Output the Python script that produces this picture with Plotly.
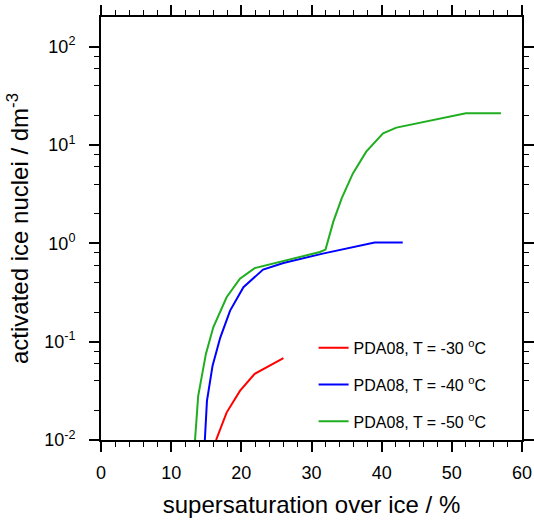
import plotly.graph_objects as go

# Data
x_30 = [16.4, 17.9, 19.8, 21.9, 26.0]
y_30 = [0.010, 0.019, 0.0316, 0.047, 0.068]

x_40 = [14.8, 15.1, 15.9, 17.0, 18.4, 20.3, 23.1, 26.0, 31.6, 39.0, 43.0]
y_40 = [0.010, 0.025, 0.057, 0.11, 0.207, 0.358, 0.54, 0.63, 0.785, 1.02, 1.02]

x_50 = [13.4, 13.85, 14.95, 16.0, 17.9, 19.8, 21.9, 26.0, 31.2, 32.0,
        33.1, 34.3, 35.9, 37.8, 40.2, 42.1, 47.8, 52.0, 57.0]
y_50 = [0.010, 0.028, 0.075, 0.14, 0.283, 0.436, 0.56, 0.66, 0.815, 0.863,
        1.65, 2.86, 5.14, 8.55, 13.1, 15.0, 18.3, 21.0, 21.0]

series_names = ["PDA08, T = -30 <sup>o</sup>C",
                "PDA08, T = -40 <sup>o</sup>C",
                "PDA08, T = -50 <sup>o</sup>C"]
series_colors = ["#ff0000", "#0000ff", "#1fae1f"]

x_tickvals = [0, 10, 20, 30, 40, 50, 60]
y_tickvals = [0.01, 0.1, 1, 10, 100]
y_ticktext = ["10<sup>-2</sup>", "10<sup>-1</sup>", "10<sup>0</sup>",
              "10<sup>1</sup>", "10<sup>2</sup>"]
y_minor = [m * d for d in [0.01, 0.1, 1, 10, 100] for m in (2, 4, 6, 8)]
y_minor = [v for v in y_minor if v < 200]

FONT = "Liberation Sans, Arial, Helvetica, sans-serif"

fig = go.Figure()
for i, (xs, ys) in enumerate([(x_30, y_30), (x_40, y_40), (x_50, y_50)]):
    fig.add_trace(go.Scatter(
        x=xs, y=ys, mode="lines", name=series_names[i],
        line=dict(color=series_colors[i], width=2),
        legendgroup=str(i),
    ))

fig.update_layout(
    width=534, height=521,
    margin=dict(l=101, r=12, t=17, b=81, autoexpand=False),
    paper_bgcolor="white", plot_bgcolor="white",
    font=dict(family=FONT, color="black"),
    showlegend=True,
    legend=dict(
        x=0.505, y=0.258, xanchor="left", yanchor="top",
        font=dict(size=16, family=FONT),
        bgcolor="rgba(0,0,0,0)",
        tracegroupgap=13,
        itemwidth=30,
    ),
)

fig.update_xaxes(
    range=[0, 60], tickvals=x_tickvals, automargin=False,
    ticks="outside", ticklen=10, tickwidth=1.5, tickcolor="black",
    showline=True, linecolor="black", linewidth=2, mirror="ticks",
    showgrid=False, zeroline=False,
    tickfont=dict(size=18), ticklabelstandoff=5,
    minor=dict(dtick=2, ticks="outside", ticklen=5, tickwidth=1.2, tickcolor="black", showgrid=False),
    title=dict(text="supersaturation over ice / %", font=dict(size=24), standoff=15),
)

fig.update_yaxes(
    type="log", range=[-2, 2.301], automargin=False,
    tickmode="array", tickvals=y_tickvals, ticktext=y_ticktext,
    ticks="outside", ticklen=10, tickwidth=1.5, tickcolor="black",
    showline=True, linecolor="black", linewidth=2, mirror="ticks",
    showgrid=False, zeroline=False,
    tickfont=dict(size=18), ticklabelstandoff=10,
    minor=dict(tickmode="array", tickvals=y_minor, ticks="outside", ticklen=5,
               tickwidth=1.2, tickcolor="black", showgrid=False),
    title=dict(text="activated ice nuclei / dm<sup>-3</sup>", font=dict(size=24), standoff=9),
)

fig.write_html("out.html")
